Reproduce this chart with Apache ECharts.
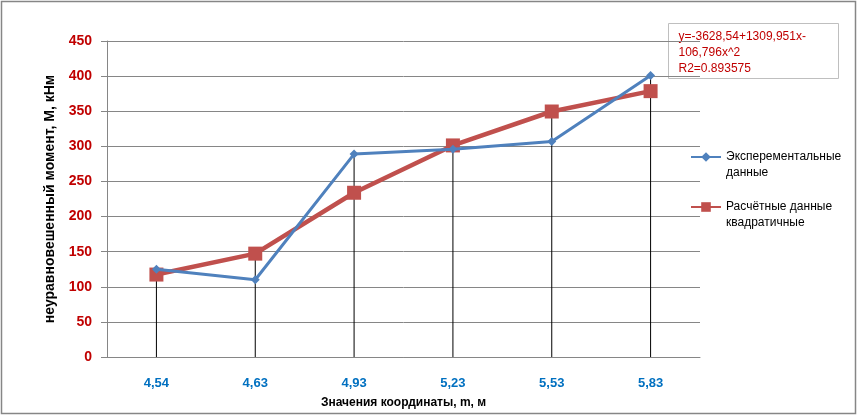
<!DOCTYPE html>
<html><head><meta charset="utf-8">
<script src="https://cdn.jsdelivr.net/npm/echarts@6/dist/echarts.min.js"></script>
<style>html,body{margin:0;padding:0;background:#fff}#c{width:858px;height:416px}</style>
</head><body><div id="c"></div>
<script>
var categories = ['4,54','4,63','4,93','5,23','5,53','5,83'];
var experimental = [125, 110, 289, 296, 307, 401];
var calculated = [117.4, 147.2, 233.9, 301.3, 349.6, 378.6];
var yTicks = {min: 0, max: 450, interval: 50};
var seriesNames = ['Эксперементальные\nданные', 'Расчётные данные\nквадратичные'];
var equationText = 'y=-3628,54+1309,951x-\n106,796x^2\nR2=0.893575';
var dropTop = experimental.map(function(v, i){ return Math.max(v, calculated[i]); });

var font = '"Liberation Sans", Arial, sans-serif';
var chart = echarts.init(document.getElementById('c'), null, {renderer: 'canvas'});
chart.setOption({
  animation: false,
  backgroundColor: '#fff',
  textStyle: {fontFamily: font},
  grid: {left: 107, right: 158, top: 41, bottom: 59},
  legend: {
    orient: 'vertical', left: 690, top: 133, padding: 0, itemWidth: 30, itemHeight: 12, itemGap: 2,
    data: [seriesNames[0], seriesNames[1]],
    formatter: function(name){ return ' \n' + name; },
    textStyle: {fontFamily: font, fontSize: 12, color: '#000', lineHeight: 16}
  },
  xAxis: {
    type: 'category', data: categories, boundaryGap: true,
    axisLine: {show: true, lineStyle: {color: '#868686'}},
    axisTick: {show: false},
    axisLabel: {color: '#0070C0', fontWeight: 'bold', fontSize: 13, fontFamily: font, margin: 20},
    name: 'Значения координаты, m, м', nameLocation: 'middle', nameGap: 40,
    nameTextStyle: {color: '#000', fontWeight: 'bold', fontSize: 12, fontFamily: font}
  },
  yAxis: {
    type: 'value', min: yTicks.min, max: yTicks.max, interval: yTicks.interval,
    axisLine: {show: true, lineStyle: {color: '#868686'}},
    axisTick: {show: true, inside: false, length: 6, lineStyle: {color: '#868686'}},
    splitLine: {show: true, lineStyle: {color: '#868686', width: 1}},
    axisLabel: {color: '#C00000', fontWeight: 'bold', fontSize: 14, fontFamily: font, margin: 15},
    name: 'неуравновешенный момент, М, кНм', nameLocation: 'middle', nameGap: 50,
    nameTextStyle: {color: '#000', fontWeight: 'bold', fontSize: 14, fontFamily: font}
  },
  series: [
    {
      name: 'drop', type: 'bar', data: dropTop, barWidth: 1, barGap: '-100%',
      itemStyle: {color: '#000'}, silent: true, z: 1, legendHoverLink: false
    },
    {
      name: seriesNames[0], type: 'line', data: experimental, z: 3,
      symbol: 'diamond', symbolSize: 9, showAllSymbol: true,
      lineStyle: {color: '#4F81BD', width: 3}, itemStyle: {color: '#4F81BD'}
    },
    {
      name: seriesNames[1], type: 'line', data: calculated, z: 2,
      symbol: 'rect', symbolSize: 14, showAllSymbol: true,
      lineStyle: {color: '#C0504D', width: 4.5}, itemStyle: {color: '#C0504D'}
    }
  ],
  graphic: [
    {type: 'rect', shape: {x: 1.5, y: 1.5, width: 854, height: 412}, style: {fill: 'none', stroke: '#868686', lineWidth: 1.5}, silent: true},
    {type: 'group', left: 668, top: 23, children: [
      {type: 'rect', shape: {x: 0, y: 0, width: 170, height: 55}, style: {fill: '#fff', stroke: '#BFBFBF', lineWidth: 1}},
      {type: 'text', x: 10, y: 5, style: {text: equationText, fill: '#C00000', font: '12px ' + font, lineHeight: 16}}
    ]}
  ]
});
</script></body></html>
